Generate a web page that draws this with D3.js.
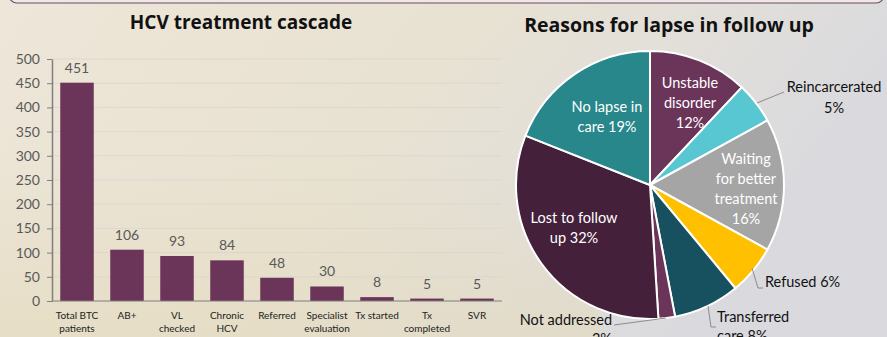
<!DOCTYPE html>
<html><head><meta charset="utf-8">
<script src="https://cdn.jsdelivr.net/npm/d3@7"></script>
<style>html,body{margin:0;padding:0;overflow:hidden;}svg{display:block;font-family:Lato,"Open Sans",sans-serif;}</style>
</head><body>
<svg id="c" width="887" height="337"></svg>
<script>
const categories = [["Total BTC","patients"],["AB+"],["VL","checked"],["Chronic","HCV"],["Referred"],["Specialist","evaluation"],["Tx started"],["Tx","completed"],["SVR"]];
const values = [451,106,93,84,48,30,8,5,5];
const yTicks = [0,50,100,150,200,250,300,350,400,450,500];

const reasons = ["Unstable disorder","Reincarcerated","Waiting for better treatment","Refused","Transferred care","Not addressed","Lost to follow up","No lapse in care"];
const shares = [12,5,16,6,8,2,32,19];
const sliceColors = ["#6B3459","#58C7D1","#A5A5A5","#FFC000","#17505F","#6B3459","#44203A","#27878B"];

const svg = d3.select("#c");
const defs = svg.append("defs");
const g1 = defs.append("linearGradient").attr("id","bg").attr("x1","0").attr("y1","0").attr("x2","1").attr("y2","0.3");
g1.append("stop").attr("offset","0").attr("stop-color","#EEE6D8");
g1.append("stop").attr("offset","0.5").attr("stop-color","#E8E2D2");
g1.append("stop").attr("offset","0.75").attr("stop-color","#E2DFDA");
g1.append("stop").attr("offset","1").attr("stop-color","#D9D9DE");
svg.append("rect").attr("width",887).attr("height",337).attr("fill","url(#bg)");
const g2 = defs.append("linearGradient").attr("id","bg2").attr("x1","0").attr("y1","0").attr("x2","0").attr("y2","1");
g2.append("stop").attr("offset","0").attr("stop-color","#E6DCC0").attr("stop-opacity",0);
g2.append("stop").attr("offset","1").attr("stop-color","#E4DABD").attr("stop-opacity",0.6);
svg.append("rect").attr("x",0).attr("y",150).attr("width",600).attr("height",187).attr("fill","url(#bg2)");

// top frame
svg.append("rect").attr("x",9).attr("y",-30).attr("width",875).attr("height",33).attr("rx",8)
  .attr("fill","#EFE9E6").attr("stroke","#6E4A66").attr("stroke-width",1.2);

// titles
svg.append("text").attr("x",241).attr("y",29).attr("text-anchor","middle").attr("font-weight","bold").attr("font-family","'Open Sans',sans-serif").attr("font-size",19).attr("fill","#111").text("HCV treatment cascade");
svg.append("text").attr("x",669).attr("y",32).attr("text-anchor","middle").attr("font-weight","bold").attr("font-family","'Open Sans',sans-serif").attr("font-size",19.5).attr("fill","#111").text("Reasons for lapse in follow up");

// bar chart
const x = d3.scaleBand().domain(d3.range(values.length)).range([52,502]).paddingInner(0.33).paddingOuter(0.165);
const y = d3.scaleLinear().domain([0,500]).range([301,59]);

svg.append("g").selectAll("line").data(yTicks.slice(1)).join("line")
  .attr("x1",52).attr("x2",502).attr("y1",d=>y(d)).attr("y2",d=>y(d))
  .attr("stroke","#DCD7D0").attr("stroke-width",1);

const yAxis = svg.append("g").attr("transform","translate(52,0)")
  .call(d3.axisLeft(y).tickValues(yTicks).tickSize(5).tickSizeOuter(0).tickPadding(7));
yAxis.select(".domain").attr("stroke","#7F7F7F").attr("stroke-width",1.5);
yAxis.selectAll(".tick line").attr("stroke","#7F7F7F");
yAxis.selectAll("text").attr("font-size",14).attr("fill","#595959").attr("font-family","Lato,sans-serif");

svg.append("g").selectAll("rect").data(values).join("rect")
  .attr("x",(d,i)=>x(i)).attr("width",x.bandwidth())
  .attr("y",d=>y(d)).attr("height",d=>y(0)-y(d)).attr("fill","#6B3459");

svg.append("line").attr("x1",52).attr("x2",502).attr("y1",y(0)).attr("y2",y(0)).attr("stroke","#7F7F7F").attr("stroke-width",1.2);

svg.append("g").selectAll("text").data(values).join("text")
  .attr("x",(d,i)=>x(i)+x.bandwidth()/2).attr("y",d=>y(d)-10)
  .attr("text-anchor","middle").attr("font-size",14).attr("fill","#595959").text(d=>d);

const cl = svg.append("g").selectAll("text").data(categories).join("text")
  .attr("x",(d,i)=>x(i)+x.bandwidth()/2).attr("y",319)
  .attr("text-anchor","middle").attr("font-size",10).attr("fill","#222");
cl.each(function(d){
  const t = d3.select(this);
  const cx = t.attr("x");
  d.forEach((s,k)=>t.append("tspan").attr("x",cx).attr("dy",k?12.5:0).text(s));
});

// pie
const cx = 650, cy = 185, R = 134;
const pie = d3.pie().sort(null).value(d=>d)(shares);
const arc = d3.arc().innerRadius(0).outerRadius(R);
const pg = svg.append("g").attr("transform",`translate(${cx},${cy})`);
pg.selectAll("path").data(pie).join("path").attr("d",arc)
  .attr("fill",(d,i)=>sliceColors[i]).attr("stroke","#fff").attr("stroke-width",2).attr("stroke-linejoin","round");

function label(lines, px, py, color, anchor, lh){
  const t = svg.append("text").attr("x",px).attr("y",py).attr("text-anchor",anchor||"middle")
    .attr("font-size",14.5).attr("fill",color);
  lines.forEach((s,k)=>t.append("tspan").attr("x",px).attr("dy",k?(lh||20):0).text(s));
}
label(["Unstable","disorder","12%"],690,88,"#fff");
label(["No lapse in","care 19%"],607,112,"#fff");
label(["Waiting","for better","treatment","16%"],746,164,"#fff","middle",20);
label(["Lost to follow","up 32%"],574,223,"#fff");
label(["Reincarcerated","5%"],834,92,"#111","middle",21);
label(["Refused 6%"],765,287,"#111","start");
label(["Transferred","care 8%"],717,322,"#111","start",19);
label(["Not addressed","2%"],612,325,"#111","end",19);

const leader = (pts)=>svg.append("polyline").attr("points",pts.map(p=>p.join(",")).join(" "))
  .attr("fill","none").attr("stroke","#8C8C8C").attr("stroke-width",1);
leader([[757,103],[784,92]]);
leader([[752,268],[758,288],[763,288]]);
leader([[708,306],[711,327],[716,327]]);
leader([[666,318],[614,325]]);
</script>
</body></html>
